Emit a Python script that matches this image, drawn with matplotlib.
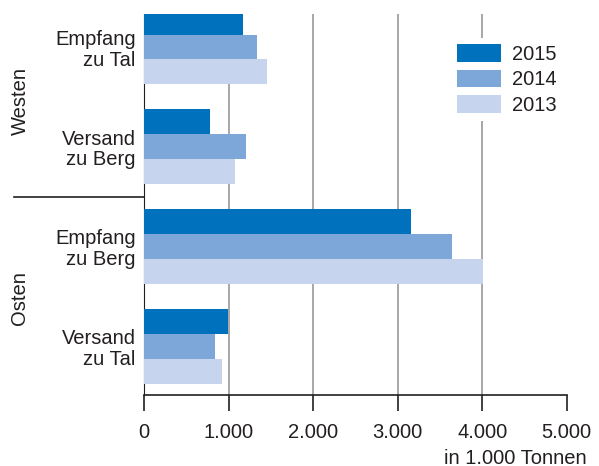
import numpy as np
import matplotlib
matplotlib.use("Agg")
from matplotlib import pyplot as plt
from matplotlib.lines import Line2D

plt.rcParams['font.family'] = ['Liberation Sans', 'DejaVu Sans']

# data (in 1.000 Tonnen)
categories = ['Empfang\nzu Tal', 'Versand\nzu Berg', 'Empfang\nzu Berg', 'Versand\nzu Tal']
regions = ['Westen', 'Osten']
years = ['2015', '2014', '2013']
v2015 = [1168, 781, 3155, 994]
v2014 = [1337, 1207, 3640, 840]
v2013 = [1456, 1077, 4010, 923]
xticks = [0, 1000, 2000, 3000, 4000, 5000]
xticklabels = ['0', '1.000', '2.000', '3.000', '4.000', '5.000']

colors = ['#0071BC', '#7DA7D9', '#C6D4ED']
txt = '#231F20'
fs = 14.5

fig = plt.figure(figsize=(5.99, 4.66), dpi=100)
ax = fig.add_axes([144/599, 1 - 395/466, (566.7 - 144)/599, (395 - 14)/466])

y = np.arange(len(categories))
h = 0.25
for i, (vals, lab) in enumerate(zip([v2015, v2014, v2013], years)):
    ax.barh(y + (i - 1) * h, vals, height=h, color=colors[i], label=lab, zorder=3)

ax.set_xlim(0, 5000)
ax.set_ylim(3.49, -0.331)

for x in xticks[1:-1]:
    ax.axvline(x, color='#A0A0A0', lw=1.3, zorder=1)

for s in ['top', 'right']:
    ax.spines[s].set_visible(False)
ax.spines['left'].set_color(txt)
ax.spines['left'].set_zorder(2)
ax.spines['bottom'].set_color(txt)
ax.spines['bottom'].set_linewidth(1.2)

ax.set_xticks(xticks)
ax.set_xticklabels(xticklabels, fontsize=fs, color=txt)
ax.tick_params(axis='x', direction='out', length=11.5, width=1.2, color=txt, pad=9)
ax.set_yticks(y)
ax.set_yticklabels(categories, fontsize=fs, color=txt, linespacing=1.1)
for t in ax.get_yticklabels():
    t.set_multialignment('right')
ax.tick_params(axis='y', length=0, pad=6)

fig.text(587/599, 1 - 458/466, 'in 1.000 Tonnen', ha='right', va='center', fontsize=fs, color=txt)

# region labels and separator
fig.text(20/599, 1 - 101/466, regions[0], rotation=90, ha='center', va='center', fontsize=fs, color=txt)
fig.text(20/599, 1 - 298/466, regions[1], rotation=90, ha='center', va='center', fontsize=fs, color=txt)
sep_y = 1 - 196.5/466
fig.add_artist(Line2D([14/599, 144/599], [sep_y, sep_y], color=txt, lw=1.2))

leg = ax.legend(loc='upper left', bbox_to_anchor=((457 - 144 - 6)/(566.7 - 144), 1 - (44 - 14 - 6)/381),
                fontsize=fs, frameon=True, fancybox=False, handlelength=2.18, handleheight=0.99,
                labelspacing=0.28, handletextpad=0.55, borderaxespad=0, borderpad=0.3)
leg.get_frame().set_facecolor('white')
leg.get_frame().set_edgecolor('none')
leg.get_frame().set_alpha(1)
leg.set_zorder(5)
for t in leg.get_texts():
    t.set_color(txt)

fig.savefig('out.png', dpi=100)
